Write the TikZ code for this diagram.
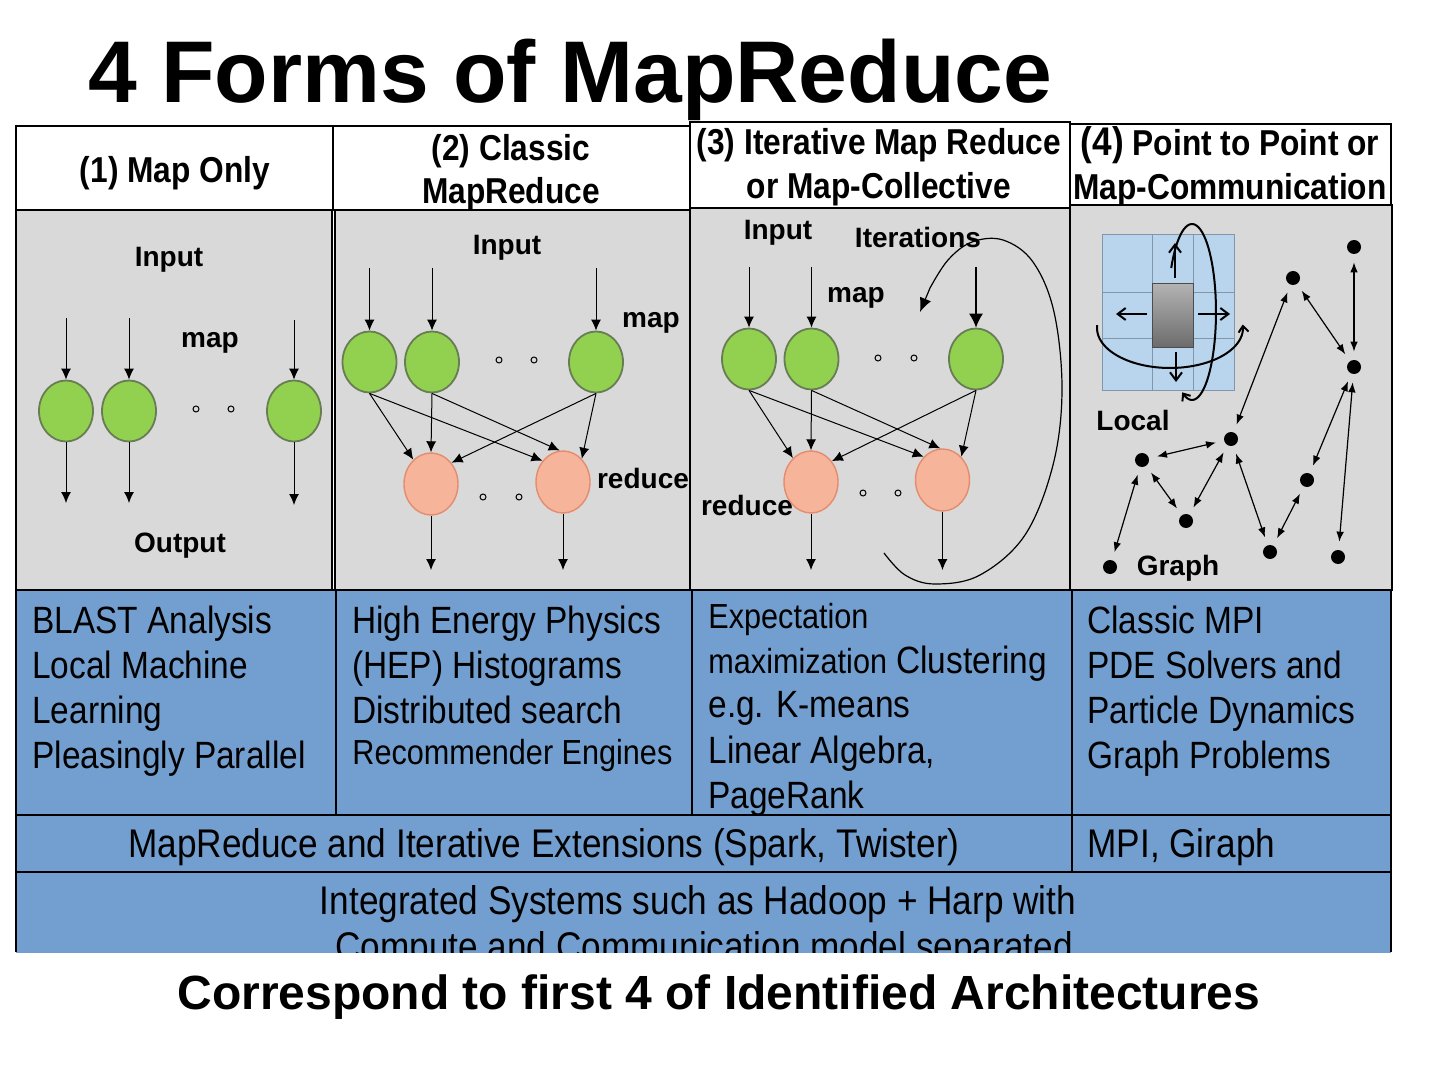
\documentclass[tikz,border=0pt]{standalone}
\usepackage{fontspec}
\setmainfont{Liberation Sans}
\newfontfamily\narrowfont{Liberation Sans}[FakeStretch=0.88]
\usetikzlibrary{arrows.meta,shapes.geometric}
\definecolor{panelgray}{RGB}{217,217,217}
\definecolor{tabblue}{RGB}{114,159,207}
\definecolor{mapgreen}{RGB}{146,208,80}
\definecolor{mapedge}{RGB}{105,125,85}
\definecolor{redfill}{RGB}{246,180,155}
\definecolor{rededge}{RGB}{228,140,110}
\definecolor{gridblue}{RGB}{185,212,237}
\definecolor{gridline}{RGB}{130,150,170}
\tikzset{
  lab/.style={font=\bfseries\fontsize{14}{17}\selectfont, inner sep=0pt},
  hdr/.style={font=\narrowfont\bfseries\fontsize{18}{21}\selectfont, inner sep=0pt, anchor=base},
  body/.style={font=\narrowfont\fontsize{19}{22}\selectfont, inner sep=0pt, anchor=base west},
  widebody/.style={font=\narrowfont\fontsize{20}{23}\selectfont, inner sep=0pt, anchor=base},
  smallbody/.style={font=\narrowfont\fontsize{17.4}{20}\selectfont, inner sep=0pt, anchor=base west},
  mapn/.style={ellipse, fill=mapgreen, draw=mapedge, line width=0.9pt, minimum width=27pt, minimum height=30.5pt, inner sep=0pt},
  rednode/.style={ellipse, fill=redfill, draw=rededge, line width=0.7pt, minimum width=27pt, minimum height=31pt, inner sep=0pt},
  dotn/.style={circle, draw=black, line width=0.5pt, minimum size=3pt, inner sep=0pt},
  gdot/.style={circle, fill=black, minimum size=7pt, inner sep=0pt},
  arr/.style={line width=0.5pt, -{Latex[length=5.5pt,width=5pt]}},
  darr/.style={line width=0.6pt, {Latex[length=5pt,width=3.8pt]}-{Latex[length=5pt,width=3.8pt]}, shorten >=4pt, shorten <=4pt},
  cellbox/.style={draw=black, line width=1pt},
}
\begin{document}
\begin{tikzpicture}[x=0.5pt,y=-0.5pt]
\useasboundingbox (0,0) rectangle (1440,1080);
\fill[white] (0,0) rectangle (1440,1080);

% title
\node[anchor=base west, inner sep=0pt, font=\bfseries\fontsize{43.8}{50}\selectfont] (title) at (88,103) {4 Forms of MapReduce};

% header cells
\draw[cellbox, fill=white] (16,126) rectangle (333,210);
\draw[cellbox, fill=white] (333,126) rectangle (690,210);
\draw[cellbox, fill=white] (690,122) rectangle (1070,208);
\draw[cellbox, fill=white] (1070,124) rectangle (1391,205);
\node[hdr] (h1) at (175,183) {(1) Map Only};
\node[hdr] (h2a) at (511,161) {(2) Classic};
\node[hdr] (h2b) at (511,204) {MapReduce};
\node[hdr] (h3a) at (879,155) {(3) Iterative Map Reduce};
\node[hdr] (h3b) at (879,199) {or Map-Collective};
\node[hdr] (h4a) at (1230,156) {{\fontsize{20}{22}\selectfont(4)} Point to Point or};
\node[hdr] (h4b) at (1230,200) {Map-Communication};

% gray panels
\draw[fill=panelgray, draw=black, line width=0.6pt] (16,210) rectangle (332,590);
\draw[fill=panelgray, draw=black, line width=0.6pt] (335,210) rectangle (690,590);
\draw[fill=panelgray, draw=black, line width=0.6pt] (690,208) rectangle (1070,590);
\draw[fill=panelgray, draw=black, line width=0.6pt] (1070,205) rectangle (1392,590);

% ---------- panel 1 ----------
\node[lab] (in1) at (169,260) {Input};
\node[lab] (map1) at (210,343) {map};
\node[lab] (out1) at (180,546) {Output};
\node[mapn] (p1m1) at (66,411) {};
\node[mapn] (p1m2) at (129,411) {};
\node[mapn] (p1m3) at (294,411) {};
\coordinate (p1i1) at (66,318);
\coordinate (p1i2) at (129,318);
\coordinate (p1i3) at (294,320);
\coordinate (p1o1) at (66,503);
\coordinate (p1o2) at (129,503);
\coordinate (p1o3) at (294,505);
\foreach \k in {1,2,3}{
  \draw[arr] (p1i\k) -- (p1m\k);
  \draw[arr] (p1m\k) -- (p1o\k);
}
\node[dotn] (p1d1) at (196,409) {};
\node[dotn] (p1d2) at (231,409) {};

% ---------- panel 2 ----------
\node[lab] (in2) at (507,248) {Input};
\node[lab] (map2) at (651,323) {map};
\node[lab] (red2) at (643,478) {reduce};
\node[mapn] (p2m1) at (369.5,362) {};
\node[mapn] (p2m2) at (432,362) {};
\node[mapn] (p2m3) at (596,362) {};
\coordinate (p2i1) at (369.5,268);
\coordinate (p2i2) at (432,268);
\coordinate (p2i3) at (596,268);
\foreach \k in {1,2,3}{ \draw[arr] (p2i\k) -- (p2m\k); }
\node[rednode] (p2r1) at (431,484) {};
\node[rednode] (p2r2) at (563,482) {};
\coordinate (p2o1) at (431,570);
\coordinate (p2o2) at (563,570);
\draw[arr] (p2r1) -- (p2o1);
\draw[arr] (p2r2) -- (p2o2);
\draw[arr] (p2m1.south) -- (p2r1.126);
\draw[arr] (p2m1.south) -- (p2r2.134);
\draw[arr] (p2m2.south) -- (p2r1.north);
\draw[arr] (p2m2.south) -- (p2r2.96);
\draw[arr] (p2m3.south) -- (p2r1.46);
\draw[arr] (p2m3.south) -- (p2r2.51);
\node[dotn] (p2d1) at (499,360) {};
\node[dotn] (p2d2) at (534,360) {};
\node[dotn] (p2d3) at (483,497) {};
\node[dotn] (p2d4) at (519,497) {};

% ---------- panel 3 ----------
\node[lab] (in3) at (778,233) {Input};
\node[lab] (it3) at (918,237) {Iterations};
\node[lab] (map3) at (856,298) {map};
\node[lab] (red3) at (747,505) {reduce};
\node[mapn] (p3m1) at (749,359) {};
\node[mapn] (p3m2) at (811.5,359) {};
\node[mapn] (p3m3) at (976,359) {};
\coordinate (p3i1) at (749,267);
\coordinate (p3i2) at (811.5,267);
\coordinate (p3i3) at (976,267);
\draw[arr] (p3i1) -- (p3m1);
\draw[arr] (p3i2) -- (p3m2);
\draw[line width=0.6pt, -{Latex[length=7pt,width=7pt]}] (p3i3) -- (p3m3);
\node[rednode] (p3r1) at (811,482) {};
\node[rednode] (p3r2) at (942.5,480) {};
\coordinate (p3o1) at (811,570);
\coordinate (p3o2) at (942.5,570);
\draw[arr] (p3r1) -- (p3o1);
\draw[arr] (p3r2) -- (p3o2);
\draw[arr] (p3m1.south) -- (p3r1.127);
\draw[arr] (p3m1.south) -- (p3r2.129);
\draw[arr] (p3m2.south) -- (p3r1.north);
\draw[arr] (p3m2.south) -- (p3r2.94);
\draw[arr] (p3m3.south) -- (p3r1.45);
\draw[arr] (p3m3.south) -- (p3r2.51);
\node[dotn] (p3d1) at (878,358) {};
\node[dotn] (p3d2) at (914,358) {};
\node[dotn] (p3d3) at (863,493) {};
\node[dotn] (p3d4) at (898,493) {};
\coordinate (loopend) at (920,312);
\draw[line width=0.6pt, -{Latex[length=7pt,width=6pt]}] plot[smooth, tension=0.6] coordinates {(884,553) (905,575) (935,584) (980,575) (1025,535) (1053,465) (1062,390) (1054,312) (1033,262) (1003,240) (972,242) (948,260) (930,288)} -- (loopend);

% ---------- panel 4 ----------
\fill[gridblue] (1102,234) rectangle (1234,390);
\draw[gridline, line width=0.4pt] (1102,234) rectangle (1234,390);
\draw[gridline, line width=0.4pt] (1152,234) -- (1152,390) (1193,234) -- (1193,390)
  (1102,292) -- (1234,292) (1102,338) -- (1234,338);
\shade[top color=black!30, bottom color=black!58, draw=black!70, line width=0.5pt] (1152,284) rectangle (1193,348);
\coordinate (upA) at (1175,278); \coordinate (upB) at (1175,243);
\coordinate (lfA) at (1147,314); \coordinate (lfB) at (1116,314);
\coordinate (rtA) at (1198,314); \coordinate (rtB) at (1230,314);
\coordinate (dnA) at (1176,352); \coordinate (dnB) at (1176,382);
\foreach \a in {up,lf,rt,dn}{
  \draw[line width=1pt, -{Straight Barb[length=4pt,width=6pt]}] (\a A) -- (\a B);
}
\draw[line width=1pt, -{Straight Barb[length=3pt,width=5pt]}] plot[domain=176:365, samples=60, variable=\t] ({1170+73*cos(\t)}, {328-40*sin(\t)});
\draw[line width=1pt, -{Straight Barb[length=3pt,width=5pt]}] plot[domain=-150:114, samples=60, variable=\t] ({1192+24*cos(\t)}, {312+88*sin(\t)});
\node[lab] (loc) at (1133,420) {Local};
\node[lab] (gr) at (1178,568) {Graph};

\node[gdot] (n1) at (1354,247) {};
\node[gdot] (n2) at (1293,278) {};
\node[gdot] (n3) at (1354,367) {};
\node[gdot] (n4) at (1231,439) {};
\node[gdot] (n5) at (1142,460) {};
\node[gdot] (n6) at (1307,480) {};
\node[gdot] (n7) at (1186,521) {};
\node[gdot] (n8) at (1270,552) {};
\node[gdot] (n9) at (1338,557) {};
\node[gdot] (n10) at (1110,567) {};
\draw[darr] (n1) -- (n3);
\draw[darr] (n2) -- (n3);
\draw[darr] (n2) -- (n4);
\draw[darr] (n4) -- (n5);
\draw[darr] (n5) -- (n7);
\draw[darr] (n7) -- (n4);
\draw[darr] (n5) -- (n10);
\draw[darr] (n4) -- (n8);
\draw[darr] (n8) -- (n6);
\draw[darr] (n6) -- (n3);
\draw[darr] (n3) -- (n9);

% ---------- blue table ----------
\draw[fill=tabblue, draw=black, line width=1pt] (16,590) rectangle (336,815);
\draw[fill=tabblue, draw=black, line width=1pt] (336,590) rectangle (692,815);
\draw[fill=tabblue, draw=black, line width=1pt] (692,590) rectangle (1072,815);
\draw[fill=tabblue, draw=black, line width=1pt] (1072,590) rectangle (1391,815);
\draw[fill=tabblue, draw=black, line width=1pt] (16,815) rectangle (1072,872);
\draw[fill=tabblue, draw=black, line width=1pt] (1072,815) rectangle (1391,872);

\node[body] (a1) at (32,633) {BLAST Analysis};
\node[body] (a2) at (32,678) {Local Machine};
\node[body] (a3) at (32,723) {Learning};
\node[body] (a4) at (32,768) {Pleasingly Parallel};

\node[body] (b1) at (352,633) {High Energy Physics};
\node[body] (b2) at (352,678) {(HEP) Histograms};
\node[body] (b3) at (352,723) {Distributed search};
\node[smallbody] (b4) at (352,764) {Recommender Engines};

\node[smallbody] (c1) at (708,628) {Expectation};
\node[body] (c2) at (708,673) {{\fontsize{17.4}{20}\selectfont maximization} Clustering};
\node[body] (c3) at (708,717) {e.g. K-means};
\node[body] (c4) at (708,763) {Linear Algebra,};
\node[body] (c5) at (708,808) {PageRank};

\node[body] (d1) at (1087,633) {Classic MPI};
\node[body] (d2) at (1087,678) {PDE Solvers and};
\node[body] (d3) at (1087,723) {Particle Dynamics};
\node[body] (d4) at (1087,768) {Graph Problems};

\node[widebody] (e1) at (544,857) {MapReduce and Iterative Extensions (Spark, Twister)};
\node[widebody, anchor=base west] (e2) at (1087,857) {MPI, Giraph};

\begin{scope}
\clip (14,872) rectangle (1393,952);
\fill[tabblue] (16,872) rectangle (1391,960);
\node[widebody] (f1) at (698,914) {Integrated Systems such as Hadoop + Harp with};
\node[widebody] (f2) at (704,960) {Compute and Communication model separated};
\end{scope}
\draw[black, line width=1pt] (16,952) -- (16,872) -- (1391,872) -- (1391,952);

\node[anchor=base, inner sep=0pt, font=\bfseries\fontsize{24}{28}\selectfont] (foot) at (719,1009) {Correspond to first 4 of Identified Architectures};
\end{tikzpicture}
\end{document}
